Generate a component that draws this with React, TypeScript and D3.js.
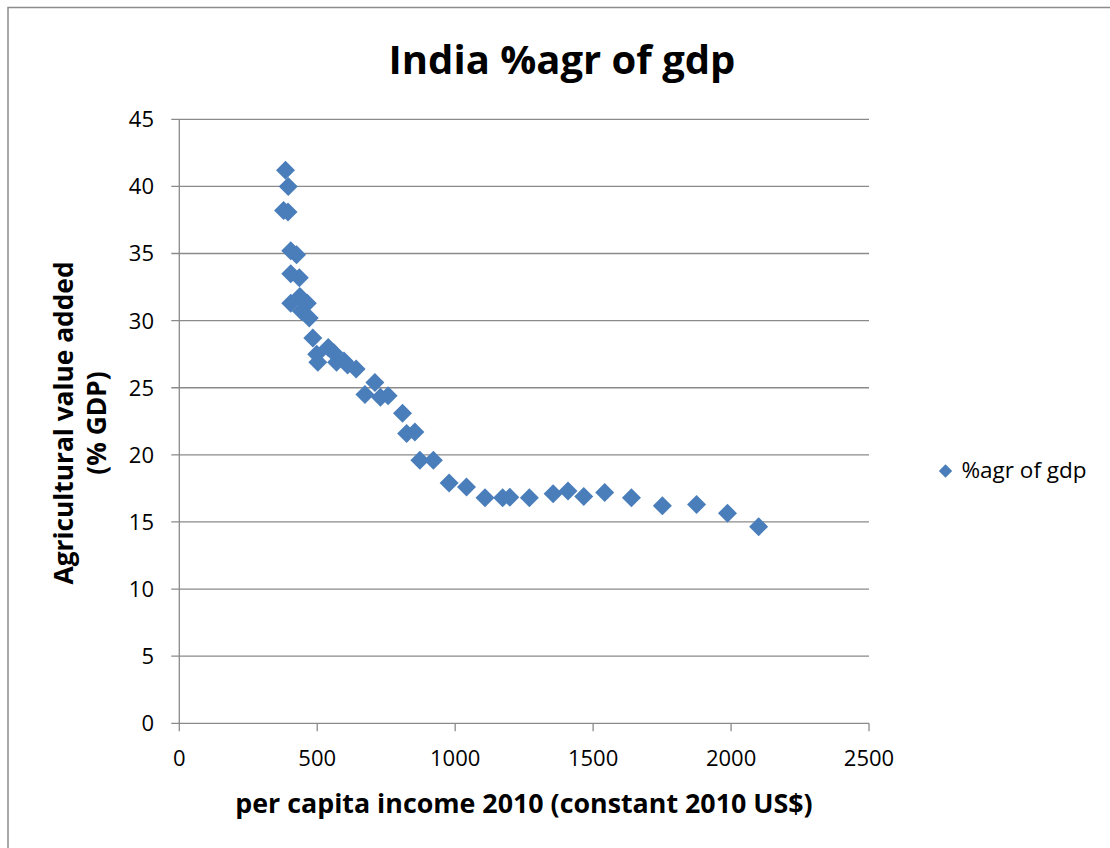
import React from "react";
import * as d3 from "d3";

const incomeValues = [385, 395, 378, 394, 404, 425, 404, 435, 404, 437, 464, 443, 471, 484, 498, 502, 540, 560, 570, 597, 610, 641, 709, 673, 729, 757, 809, 824, 854, 872, 921, 978, 1041, 1108, 1172, 1198, 1269, 1355, 1409, 1466, 1542, 1639, 1751, 1875, 1987, 2100];
const agrValues = [41.2, 40.0, 38.2, 38.1, 35.2, 34.9, 33.5, 33.2, 31.3, 31.8, 31.3, 30.7, 30.2, 28.7, 27.5, 26.9, 28.0, 27.6, 26.9, 27.0, 26.7, 26.4, 25.4, 24.5, 24.3, 24.4, 23.1, 21.6, 21.7, 19.6, 19.6, 17.9, 17.6, 16.8, 16.8, 16.85, 16.8, 17.1, 17.3, 16.9, 17.2, 16.8, 16.2, 16.3, 15.65, 14.65];
const xTicks = [0, 500, 1000, 1500, 2000, 2500];
const yTicks = [0, 5, 10, 15, 20, 25, 30, 35, 40, 45];
const title = "India %agr of gdp";
const xTitle = "per capita income 2010 (constant 2010 US$)";
const yTitleLines = ["Agricultural value added", "(% GDP)"];
const seriesName = "%agr of gdp";

const W = 1110;
const H = 848;
const plot = { left: 179.3, right: 869, top: 119.3, bottom: 723.3 };
const FONT = "'Open Sans', 'Noto Sans', sans-serif";
const BLUE = "#4A7EBB";
const GRID = "#8a8a8a";

function diamond(cx: number, cy: number, r: number) {
  return `M${cx},${cy - r}L${cx + r},${cy}L${cx},${cy + r}L${cx - r},${cy}Z`;
}

export default function App() {
  const x = d3.scaleLinear().domain([0, 2500]).range([plot.left, plot.right]);
  const y = d3.scaleLinear().domain([0, 45]).range([plot.bottom, plot.top]);
  const points = incomeValues.map((v, i) => ({ x: v, y: agrValues[i] }));
  const r = 9.5;

  return (
    <svg
      width={W}
      height={H}
      style={{ position: "absolute", left: 0, top: 0, background: "#fff" }}
      fontFamily={FONT}
    >
      <rect x={0} y={0} width={W} height={H} fill="#fff" />
      <rect x={8} y={7.5} width={W + 20} height={H + 20} fill="none" stroke="#8c8c8c" strokeWidth={1.5} />
      <text x={562} y={74} textAnchor="middle" fontSize={40} fontWeight="bold" fill="#000">
        {title}
      </text>
      {yTicks.map((t) => (
        <g key={"y" + t}>
          <line x1={plot.left - 8} x2={plot.right} y1={y(t)} y2={y(t)} stroke={GRID} strokeWidth={1.3} />
          <text x={154} y={y(t)} dy="0.36em" textAnchor="end" fontSize={22} fill="#000">
            {t}
          </text>
        </g>
      ))}
      <line x1={plot.left} x2={plot.left} y1={plot.top} y2={plot.bottom} stroke={GRID} strokeWidth={1.3} />
      {xTicks.map((t) => (
        <g key={"x" + t}>
          <line x1={x(t)} x2={x(t)} y1={plot.bottom} y2={plot.bottom + 8} stroke={GRID} strokeWidth={1.3} />
          <text x={x(t)} y={758} dy="0.36em" textAnchor="middle" fontSize={22} fill="#000">
            {t}
          </text>
        </g>
      ))}
      <text x={524} y={813} textAnchor="middle" fontSize={26.8} fontWeight="bold" fill="#000">
        {xTitle}
      </text>
      <g transform="translate(0,423) rotate(-90)">
        {yTitleLines.map((l, i) => (
          <text key={l} x={0} y={73 + i * 33} textAnchor="middle" fontSize={26.3} fontWeight="bold" fill="#000">
            {l}
          </text>
        ))}
      </g>
      {points.map((p, i) => (
        <path key={i} d={diamond(x(p.x), y(p.y), r)} fill={BLUE} />
      ))}
      <path d={diamond(945.5, 471, 6.7)} fill={BLUE} />
      <text x={961.5} y={478} fontSize={22.5} fill="#000">
        {seriesName}
      </text>
    </svg>
  );
}
